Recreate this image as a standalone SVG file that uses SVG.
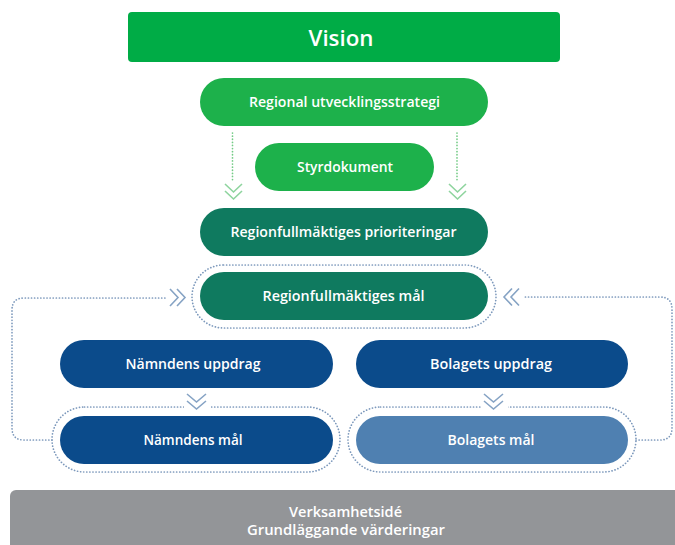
<svg xmlns="http://www.w3.org/2000/svg" width="675" height="545" viewBox="0 0 675 545">
<style>
text{font-family:"Open Sans","Noto Sans","Liberation Sans",sans-serif;font-weight:600;fill:#ffffff;text-anchor:middle}
.t{font-size:14.5px}
.green{fill:#1db14b}
.vision{fill:#00ac46}
.teal{fill:#0f7a5f}
.navy{fill:#0b4b8b}
.light{fill:#4f80b1}
.gray{fill:#939598}
.dot{fill:none;stroke:#7d99bc;stroke-width:1.7;stroke-dasharray:0.1 3;stroke-linecap:round}
.gdot{fill:none;stroke:#74cb86;stroke-width:1.7;stroke-dasharray:0.1 3;stroke-linecap:round}
.chev{fill:none;stroke:#86a3c4;stroke-width:1.6}
.gchev{fill:none;stroke:#8ed49e;stroke-width:1.6}
</style>
<rect width="675" height="545" fill="#ffffff"/>
<g id="connectors">
<path class="gdot" d="M232.5,133 V182"/>
<path class="gdot" d="M457,133 V182"/>
<path class="gchev" d="M225,184 L233.5,192 L242,184 M225,191 L233.5,199 L242,191"/>
<path class="gchev" d="M449,184 L457.5,192 L466,184 M449,191 L457.5,199 L466,191"/>
<path class="dot" d="M52,440 H24 Q12,440 12,428 V310 Q12,298 24,298 H166"/>
<path class="chev" d="M170,289 L178,297.5 L170,306 M177,289 L185,297.5 L177,306"/>
<path class="dot" d="M636,440 H660 Q672,440 672,428 V309 Q672,297 660,297 H523"/>
<path class="chev" d="M512,288.5 L504,297 L512,305.5 M519,288.5 L511,297 L519,305.5"/>
<rect class="dot" x="192" y="265" width="304" height="63" rx="31.5"/>
<rect class="dot" x="52" y="407" width="288" height="65" rx="32.5"/>
<rect class="dot" x="348" y="407" width="288" height="65" rx="32.5"/>
<rect x="184" y="395" width="27" height="16" fill="#ffffff"/>
<rect x="481" y="395" width="27" height="16" fill="#ffffff"/>
<path class="chev" d="M187,394 L196.5,402 L206,394 M187,401 L196.5,409 L206,401"/>
<path class="chev" d="M484,394 L493.5,402 L503,394 M484,401 L493.5,409 L503,401"/>
</g>
<g id="vision">
<rect class="vision" x="128" y="12" width="432" height="50" rx="4"/>
<text x="341" y="45.5" style="font-size:21.5px" textLength="65" lengthAdjust="spacingAndGlyphs">Vision</text>
</g>
<g id="regional-utvecklingsstrategi">
<rect class="green" x="200" y="78" width="288" height="48" rx="24"/>
<text class="t" x="344.5" y="107" textLength="191" lengthAdjust="spacingAndGlyphs">Regional utvecklingsstrategi</text>
</g>
<g id="styrdokument">
<rect class="green" x="255" y="143" width="179" height="48" rx="24"/>
<text class="t" x="345" y="172" textLength="96" lengthAdjust="spacingAndGlyphs">Styrdokument</text>
</g>
<g id="prioriteringar">
<rect class="teal" x="200" y="208" width="288" height="48" rx="24"/>
<text class="t" x="343.5" y="237" textLength="226" lengthAdjust="spacingAndGlyphs">Regionfullmäktiges prioriteringar</text>
</g>
<g id="regionfullmaktiges-mal">
<rect class="teal" x="200" y="272" width="288" height="48" rx="24"/>
<text class="t" x="343.5" y="301" textLength="162" lengthAdjust="spacingAndGlyphs">Regionfullmäktiges mål</text>
</g>
<g id="namndens-uppdrag">
<rect class="navy" x="60" y="340" width="273" height="48" rx="24"/>
<text class="t" x="193" y="369" textLength="135" lengthAdjust="spacingAndGlyphs">Nämndens uppdrag</text>
</g>
<g id="namndens-mal">
<rect class="navy" x="60" y="416" width="273" height="48" rx="24"/>
<text class="t" x="193" y="445" textLength="99" lengthAdjust="spacingAndGlyphs">Nämndens mål</text>
</g>
<g id="bolagets-uppdrag">
<rect class="navy" x="356" y="340" width="272" height="48" rx="24"/>
<text class="t" x="491" y="369" textLength="122" lengthAdjust="spacingAndGlyphs">Bolagets uppdrag</text>
</g>
<g id="bolagets-mal">
<rect class="light" x="356" y="416" width="272" height="48" rx="24"/>
<text class="t" x="491" y="445" textLength="87" lengthAdjust="spacingAndGlyphs">Bolagets mål</text>
</g>
<g id="verksamhetside">
<rect class="gray" x="10" y="490" width="680" height="70" rx="6"/>
<text class="t" x="345.5" y="517" textLength="113" lengthAdjust="spacingAndGlyphs">Verksamhetsidé</text>
<text class="t" x="346" y="535" textLength="198" lengthAdjust="spacingAndGlyphs">Grundläggande värderingar</text>
</g>
</svg>
